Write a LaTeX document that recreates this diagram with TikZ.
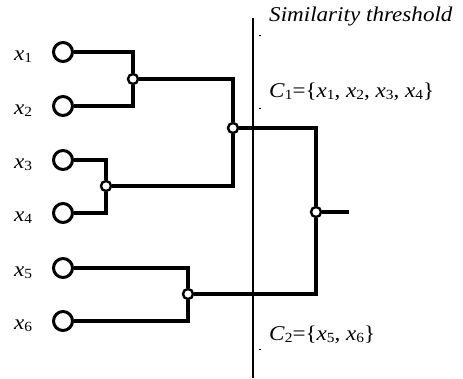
\documentclass[tikz,border=0pt]{standalone}
\usepackage{graphicx}
\usepackage{fontspec}
\setmainfont{Liberation Serif}
\newcommand\ixsub[1]{\raisebox{-0.3ex}{\fontsize{14}{14}\selectfont #1}}
\newcommand\vx[1]{\textit{x}\ixsub{#1}}
\newcommand\widetext[1]{\scalebox{1.1}[1]{#1}}
\begin{document}
\begin{tikzpicture}[x=1pt,y=-1pt,
  leaf/.style={circle,draw,line width=3pt,minimum size=19pt,inner sep=0pt,fill=white},
  mergept/.style={circle,draw,line width=2.4pt,minimum size=10pt,inner sep=0pt,fill=white},
  branch/.style={line width=3.1pt},
  lbl/.style={anchor=base west,inner sep=0pt,font=\fontsize{21}{21}\selectfont},
  thr/.style={line width=1.6pt}]
\useasboundingbox (0,0) rectangle (463,378);

% similarity threshold
\coordinate (ttop) at (253,18);
\coordinate (tbot) at (253,378);
\draw[thr] (ttop) -- (tbot);
\foreach \yy in {35,108,349}
  \draw[line width=0.9pt] (259,\yy) -- (261,\yy);

% leaves
\node[leaf] (l1) at (63,52) {};
\node[leaf] (l2) at (63,106) {};
\node[leaf] (l3) at (63,160) {};
\node[leaf] (l4) at (63,213) {};
\node[leaf] (l5) at (63,268) {};
\node[leaf] (l6) at (63,321) {};

% merge points
\node[mergept] (j1) at (133,79) {};
\node[mergept] (j2) at (106,186) {};
\node[mergept] (j3) at (233,128) {};
\node[mergept] (j4) at (188,294) {};
\node[mergept] (j5) at (316,212) {};
\coordinate (out) at (349,212);

\draw[branch] (l1) -| (j1);
\draw[branch] (j1) |- (l2);
\draw[branch] (l3) -| (j2);
\draw[branch] (j2) |- (l4);
\draw[branch] (l5) -| (j4);
\draw[branch] (j4) |- (l6);
\draw[branch] (j1) -| (j3);
\draw[branch] (j3) |- (j2);
\draw[branch] (j3) -| (j5);
\draw[branch] (j5) |- (j4);
\draw[branch] (j5) -- (out);

% leaf labels
\foreach \i/\yy in {1/52,2/106,3/160,4/213,5/268,6/321}
  \node[lbl] (t\i) at (14,\yy+8) {\widetext{\vx{\i}}};

% threshold and cluster labels
\node[lbl] (ts) at (269,21) {\widetext{\textit{Similarity threshold}}};
\node[lbl] (c1) at (269,97) {\widetext{\textit{C}\ixsub{1}=\{\vx{1}, \vx{2}, \vx{3}, \vx{4}\}}};
\node[lbl] (c2) at (269,340) {\widetext{\textit{C}\ixsub{2}=\{\vx{5}, \vx{6}\}}};
\end{tikzpicture}
\end{document}
